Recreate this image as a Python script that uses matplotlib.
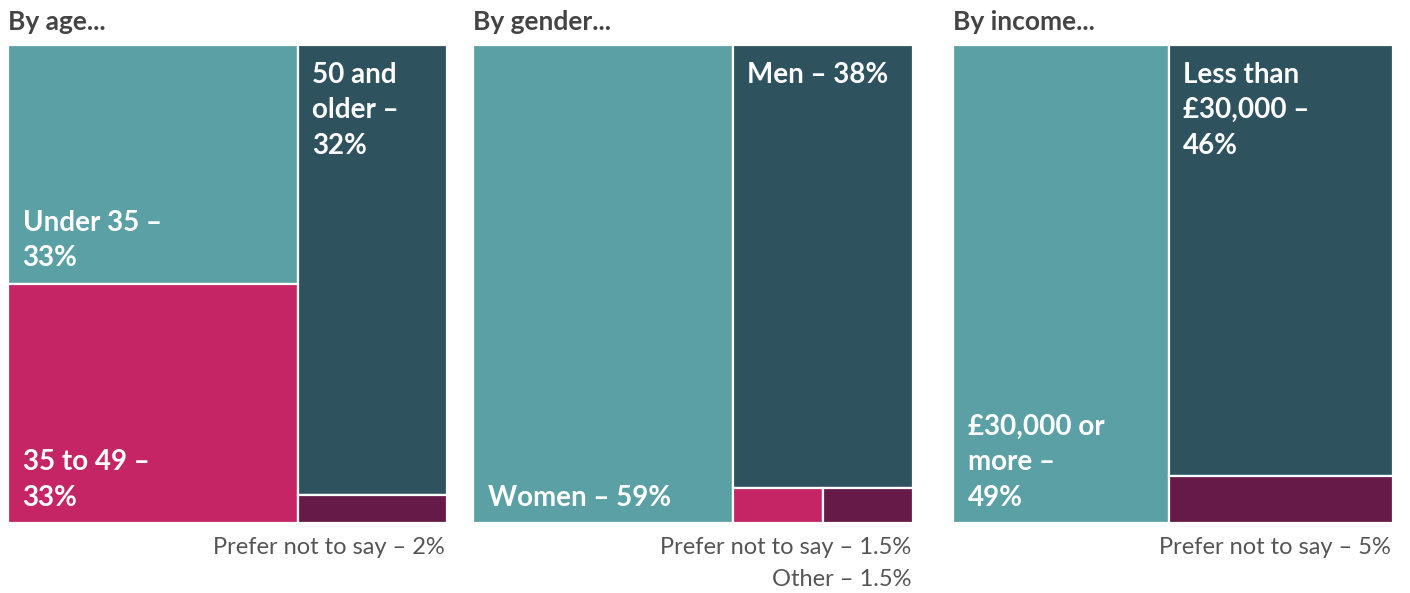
import matplotlib
matplotlib.use("Agg")
import matplotlib.pyplot as plt
from matplotlib.patches import Rectangle

plt.rcParams['font.family'] = ['Lato', 'DejaVu Sans']

# ---- data ----
titles = ["By age...", "By gender...", "By income..."]

age_labels = ["Under 35 –\n33%", "35 to 49 –\n33%", "50 and\nolder –\n32%", ""]
age_values = [33, 33, 32, 2]
age_left_count = 2

gender_labels = ["Women – 59%", "Men – 38%", "", ""]
gender_values = [59, 38, 1.5, 1.5]
gender_left_count = 1

income_labels = ["£30,000 or\nmore –\n49%", "Less than\n£30,000 –\n46%", ""]
income_values = [49, 46, 5]
income_left_count = 1

age_notes = ["Prefer not to say – 2%"]
gender_notes = ["Prefer not to say – 1.5%", "Other – 1.5%"]
income_notes = ["Prefer not to say – 5%"]

TEAL, DARK, PINK, PURPLE = "#5BA0A5", "#2E535F", "#C52565", "#661A47"
age_colors = [TEAL, PINK, DARK, PURPLE]
gender_colors = [TEAL, DARK, PINK, PURPLE]
income_colors = [TEAL, DARK, PURPLE]

panels = [
    (age_labels, age_values, age_left_count, age_colors, age_notes),
    (gender_labels, gender_values, gender_left_count, gender_colors, gender_notes),
    (income_labels, income_values, income_left_count, income_colors, income_notes),
]

W, H = 1410, 593
fig = plt.figure(figsize=(W / 100, H / 100), dpi=100)
panel_x = [(8, 447), (473, 913), (953, 1393)]
top_px, bot_px = 45, 523

for (x0, x1), title, (labels, values, nleft, colors, notes) in zip(panel_x, titles, panels):
    ax = fig.add_axes([x0 / W, (H - bot_px) / H, (x1 - x0) / W, (bot_px - top_px) / H])
    ax.set_xlim(0, 100)
    ax.set_ylim(100, 0)
    ax.axis("off")
    total = sum(values)
    left_vals = values[:nleft]
    right_vals = values[nleft:]
    lw = sum(left_vals) / total * 100
    rects = []
    # left column: stacked vertically
    y = 0
    for v in left_vals:
        h = v / sum(left_vals) * 100
        rects.append((0, y, lw, h, "bottom"))
        y += h
    # right column: first on top, rest as a row along the bottom
    rsum = sum(right_vals)
    top_h = right_vals[0] / rsum * 100
    rects.append((lw, 0, 100 - lw, top_h, "top"))
    rest = right_vals[1:]
    xx = lw
    for v in rest:
        w = v / sum(rest) * (100 - lw)
        rects.append((xx, top_h, w, 100 - top_h, "top"))
        xx += w
    for (rx, ry, rw, rh, anchor), lab, col in zip(rects, labels, colors):
        ax.add_patch(Rectangle((rx, ry), rw, rh, facecolor=col, edgecolor="white",
                               linewidth=1.6, clip_on=False))
        if lab:
            if anchor == "top":
                ax.annotate(lab, (rx, ry), xytext=(10.5, -12), textcoords="offset points",
                            ha="left", va="top", color="white", fontsize=20,
                            fontweight="bold", linespacing=1.45)
            else:
                ax.annotate(lab, (rx, ry + rh), xytext=(10.5, 9), textcoords="offset points",
                            ha="left", va="bottom", color="white", fontsize=20,
                            fontweight="bold", linespacing=1.45)
    fig.text(x0 / W, 1 - 22 / H, title, ha="left", va="center", fontsize=19,
             fontweight="bold", color="#444444")
    for i, n in enumerate(notes):
        fig.text((x1 - 2) / W, 1 - (548 + 31 * i) / H, n, ha="right", va="center",
                 fontsize=17, color="#555555")

fig.savefig("out.png", dpi=100)
